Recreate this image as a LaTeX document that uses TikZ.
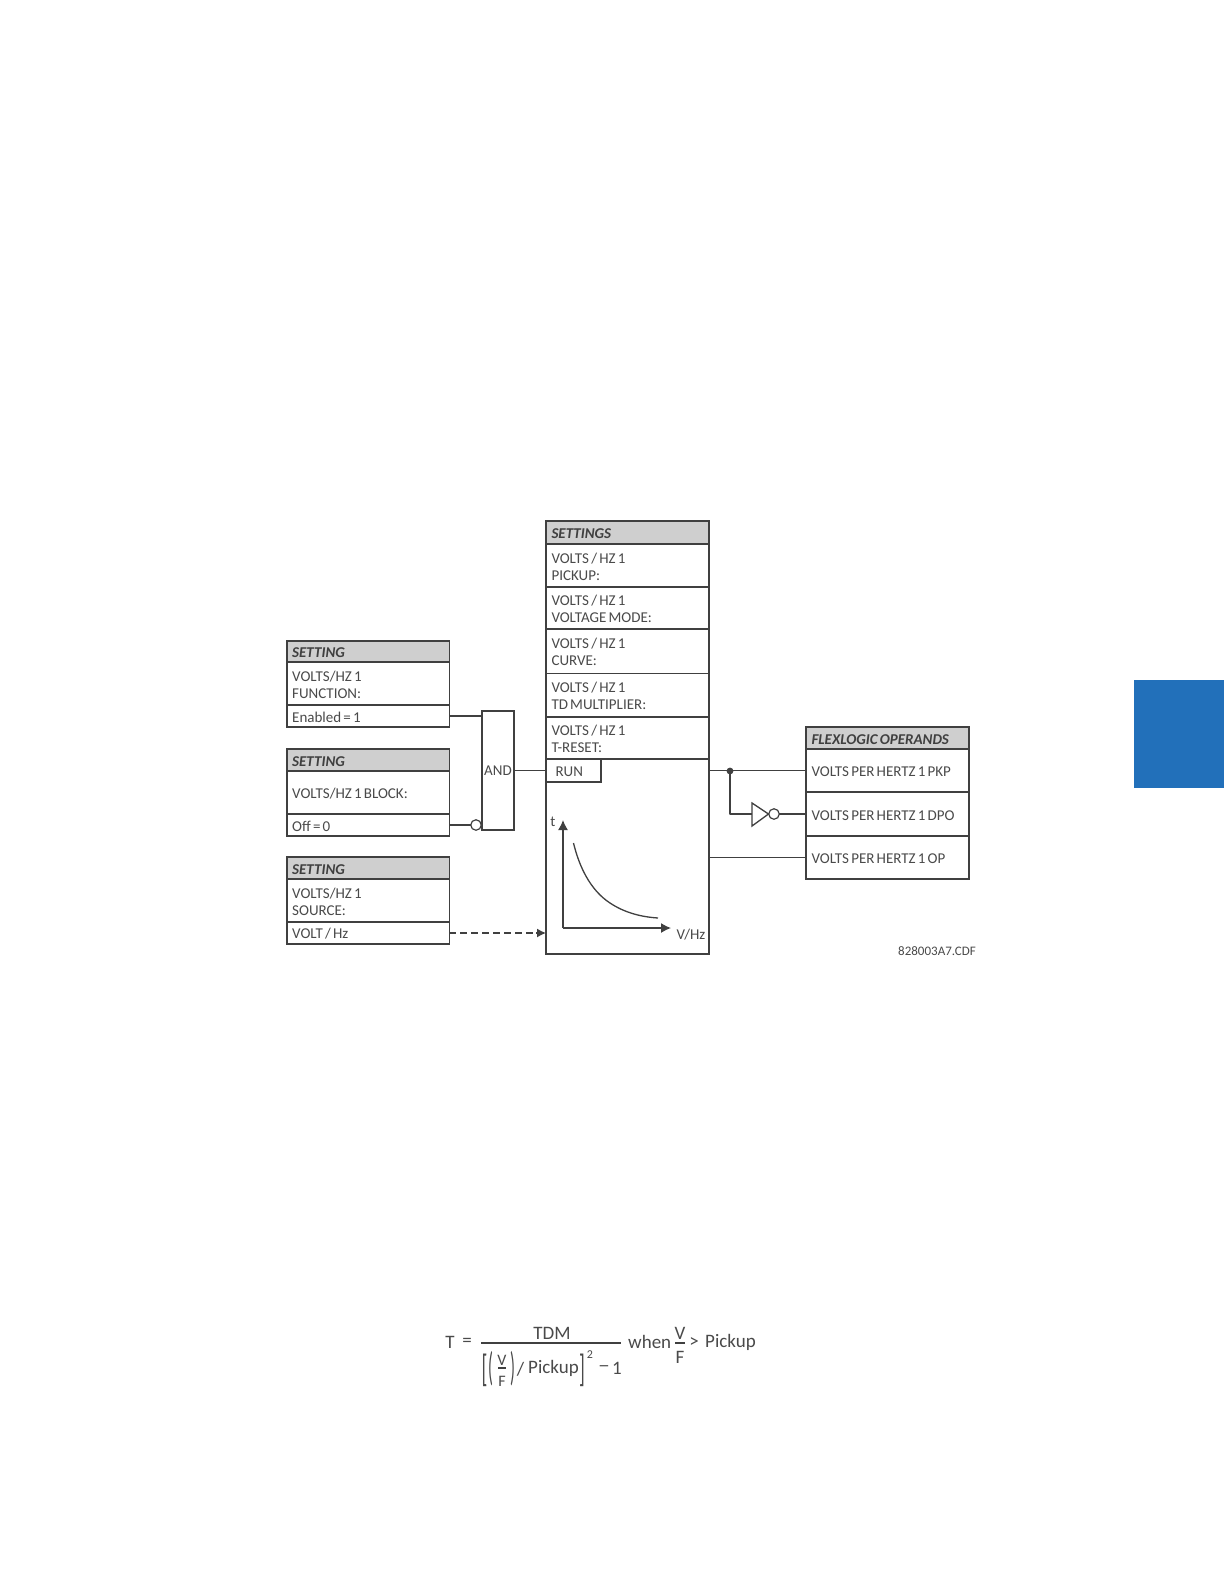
\documentclass[tikz,border=0pt]{standalone}
\usepackage{fontspec}
\usepackage{graphicx}
\setmainfont[WordSpace=0.65]{Carlito}
\definecolor{ink}{HTML}{404040}
\definecolor{txt}{HTML}{4A4A4A}
\definecolor{headgray}{HTML}{CFCFCF}
\definecolor{tabblue}{HTML}{2270BA}
\usetikzlibrary{arrows.meta,calc}
\tikzset{
  wire/.style={draw=ink,line width=1.3pt},
  cell/.style={draw=ink,line width=1.3pt,anchor=north west,inner xsep=5.2pt,inner ysep=0pt,outer sep=0pt,
     align=flush left,text=txt,font=\fontsize{15}{17}\selectfont,execute at begin node={\rule{0pt}{12.5pt}}},
  head/.style={cell,fill=headgray,font=\fontsize{15}{17}\selectfont\bfseries\itshape,text=black!75},
  lw/.style={minimum width=162pt,text width=152pt},
  mw/.style={minimum width=163pt,text width=152pt},
  free/.style={text=txt,inner sep=0pt,font=\fontsize{15}{17}\selectfont},
  eqn/.style={text=txt,inner sep=0pt,font=\fontsize{19}{21}\selectfont},
  bubble/.style={circle,draw=ink,line width=1.2pt,fill=white,minimum size=10.5pt,inner sep=0pt,outer sep=0pt},
}
\begin{document}
\begin{tikzpicture}[x=1pt,y=-1pt]
\useasboundingbox (0,0) rectangle (1224,1584);
\fill[white] (0,0) rectangle (1224,1584);
\node[fill=tabblue,anchor=north west,minimum width=90pt,minimum height=108pt,inner sep=0pt] (tab) at (1134,680) {};
% left column
\node[head,lw,minimum height=21pt] (s1h) at (287,641) {SETTING};
\node[cell,lw,minimum height=43pt] (s1b) at (287,662) {VOLTS/HZ 1\\FUNCTION:};
\node[cell,lw,minimum height=22pt] (s1v) at (287,705) {Enabled = 1};
\node[head,lw,minimum height=22pt] (s2h) at (287,749) {SETTING};
\node[cell,lw,minimum height=43pt] (s2b) at (287,771) {VOLTS/HZ 1 BLOCK:};
\node[cell,lw,minimum height=22pt] (s2v) at (287,814) {Off = 0};
\node[head,lw,minimum height=22pt] (s3h) at (287,857) {SETTING};
\node[cell,lw,minimum height=43pt] (s3b) at (287,879) {VOLTS/HZ 1\\SOURCE:};
\node[cell,lw,minimum height=22pt] (s3v) at (287,922) {VOLT / Hz};
% settings column
\node[head,mw,minimum height=23pt] (mh) at (546,521) {SETTINGS};
\node[cell,mw,minimum height=43pt] (m1) at (546,544) {VOLTS / HZ 1\\PICKUP:};
\node[cell,mw,minimum height=42pt] (m2) at (546,587) {VOLTS / HZ 1\\VOLTAGE MODE:};
\node[cell,mw,minimum height=44pt] (m3) at (546,629) {VOLTS / HZ 1\\CURVE:};
\node[cell,mw,minimum height=44pt] (m4) at (546,673) {VOLTS / HZ 1\\TD MULTIPLIER:};
\node[cell,mw,minimum height=42pt] (m5) at (546,717) {VOLTS / HZ 1\\T-RESET:};
\draw[white,line width=1.4pt] ($(m4.north west)+(0.8,0)$) -- ($(m4.north east)+(-0.8,0)$);
\draw[ink,line width=0.7pt] (m4.north west) -- (m4.north east);
\node[cell,minimum width=163pt,minimum height=195pt] (elem) at (546,759) {};
\node[cell,minimum width=55pt,minimum height=23pt,inner xsep=9.5pt,text width=36pt] (run) at (546,759) {RUN};
% AND gate
\node[draw=ink,line width=1.2pt,anchor=north west,minimum width=32pt,minimum height=119pt,inner sep=0pt,outer sep=0pt,text=txt,font=\fontsize{15}{17}\selectfont] (and) at (482,711) {AND};
\node[bubble] (inv1) at (476,825) {};
\draw[wire] (s1v.east) -- (and.west |- s1v.east);
\draw[wire] (s2v.east) -- (inv1.west);
\draw[wire] (and.east) -- (run.west);
\draw[wire,dash pattern=on 7pt off 4pt] (s3v.east) -- ($(elem.west |- s3v.east)+(-9,0)$);
\draw[wire,-{Latex[length=9pt,width=9pt]}] ($(elem.west |- s3v.east)+(-10,0)$) -- (elem.west |- s3v.east);
% graph
\coordinate (orig) at (563,928);
\coordinate (ttop) at (563,820);
\coordinate (xend) at (671,928);
\draw[wire,line width=1.4pt,-{Latex[length=10pt,width=10pt]}] (orig) -- (ttop);
\draw[wire,line width=1.4pt,-{Latex[length=10pt,width=10pt]}] (orig) -- (xend);
\draw[wire] (573.5,843) .. controls (579,866) and (590,890) .. (610,903) .. controls (625,913) and (642,917) .. (658,918);
\node[free] (tlab) at (553,822) {t};
\node[free] (vhz) at (691,935) {V/Hz};
% operands
\node[head,mw,minimum height=22pt] (fh) at (806,727) {FLEXLOGIC OPERANDS};
\node[cell,mw,minimum height=43pt] (f1) at (806,749) {VOLTS PER HERTZ 1 PKP};
\node[cell,mw,minimum height=44pt] (f2) at (806,792) {VOLTS PER HERTZ 1 DPO};
\node[cell,mw,minimum height=43pt] (f3) at (806,836) {VOLTS PER HERTZ 1 OP};
% connectors to operands
\coordinate (junc) at (730,771);
\coordinate (ta) at (752,803);
\coordinate (tb) at (752,826);
\coordinate (tc) at (768.5,814);
\coordinate (tin) at (752,814);
\draw[wire] (elem.east |- f1.west) -- (f1.west);
\draw[wire] (elem.east |- f3.west) -- (f3.west);
\fill[ink] (junc) circle (3.4pt);
\draw[wire,line join=round] (junc) -- (730,814) -- (tin);
\draw[wire,line join=miter] (ta) -- (tb) -- (tc) -- cycle;
\node[bubble] (inv2) at (774,814) {};
\draw[wire] (inv2.east) -- (f2.west);
\node[free,anchor=east,font=\fontsize{13}{15}\selectfont] (cdf) at (976,951) {828003A7.CDF};
% equation
\node[eqn] (eT) at (450,1342) {T};
\node[eqn] (eeq) at (467,1342) {=};
\node[eqn] (eTDM) at (552,1333) {TDM};
\coordinate (barL) at (481,1343);
\coordinate (barR) at (621,1343);
\draw[wire] (barL) -- (barR);
\node[eqn,anchor=west] (ew) at (628,1342) {when};
\node[eqn] (eV2) at (680,1333) {V};
\draw[wire] (675,1343) -- (685,1343);
\node[eqn] (eF2) at (680,1357) {F};
\node[eqn] (egt) at (694,1343) {>};
\node[eqn,anchor=west] (eP2) at (705,1342) {Pickup};
\node[eqn] (elb) at (484.5,1370) {\scalebox{1}[2.0]{[}};
\node[eqn] (elp) at (491,1369) {\scalebox{0.85}[2.1]{(}};
\node[eqn,font=\fontsize{16}{18}\selectfont] (eV1) at (502,1360) {V};
\draw[wire] (498,1368) -- (506,1368);
\node[eqn,font=\fontsize{16}{18}\selectfont] (eF1) at (502,1381) {F};
\node[eqn] (erp) at (513,1369) {\scalebox{0.85}[2.1]{)}};
\node[eqn] (esl) at (520.5,1369) {/};
\node[eqn,anchor=west] (eP1) at (528,1368) {Pickup};
\node[eqn] (erb) at (582,1370) {\scalebox{1}[2.0]{]}};
\node[eqn,font=\fontsize{12}{14}\selectfont] (esq) at (590,1355) {2};
\node[eqn] (emin) at (604,1369) {\scalebox{1.25}[1]{–}};
\node[eqn] (eone) at (617,1368) {1};
\end{tikzpicture}
\end{document}
